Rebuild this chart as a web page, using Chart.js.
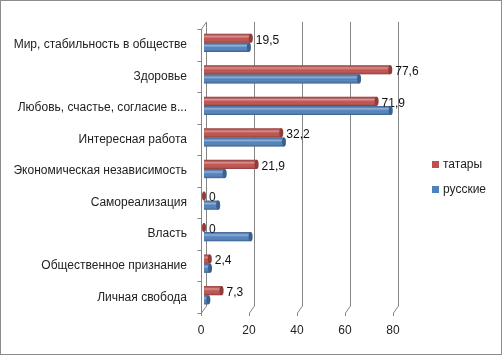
<!DOCTYPE html>
<html><head><meta charset="utf-8">
<script src="https://cdn.jsdelivr.net/npm/chart.js@4"></script>
<style>
html,body{margin:0;padding:0;background:#fff;}
#wrap{position:relative;width:502px;height:355px;}
canvas{display:block}
#frame{position:absolute;left:0;top:0;width:500px;height:353px;border:1px solid #8c8c8c;pointer-events:none}
</style></head><body>
<div id="wrap"><canvas id="c" width="502" height="355"></canvas><div id="frame"></div></div>
<script>
const categories = [
  'Мир, стабильность в обществе',
  'Здоровье',
  'Любовь, счастье, согласие в...',
  'Интересная работа',
  'Экономическая независимость',
  'Самореализация',
  'Власть',
  'Общественное признание',
  'Личная свобода'
];
const tatarValues = [19.5, 77.6, 71.9, 32.2, 21.9, 0, 0, 2.4, 7.3];
const russianValues = [18.7, 64.6, 77.8, 33.3, 8.6, 5.9, 19.4, 2.5, 1.8];
const seriesNames = ['татары', 'русские'];
const seriesColors = ['#C0504D', '#4F81BD'];
const xTicks = [0, 20, 40, 60, 80];

const FONT = 'Liberation Sans, Arial, sans-serif';
const FSIZE = 12;
const DEPTH = {dx: 3, dy: -2};
const WALL = {dx: 5, dy: -7};

function fmt(v){ return String(v).replace('.', ','); }

const wallPlugin = {
  id: 'wall',
  beforeDatasetsDraw(chart){
    const {ctx, chartArea: a, scales} = chart;
    const xs = scales.x;
    ctx.save();
    ctx.strokeStyle = '#858585';
    ctx.lineWidth = 1;
    xTicks.forEach(v => {
      const gx = Math.round(xs.getPixelForValue(v)) + 0.5;
      ctx.beginPath();
      ctx.moveTo(gx + WALL.dx, a.top + WALL.dy);
      ctx.lineTo(gx + WALL.dx, a.bottom + WALL.dy);
      ctx.lineTo(gx, a.bottom);
      ctx.lineTo(gx, a.bottom + 3);
      ctx.stroke();
    });
    const lx = Math.round(a.left) + 0.5;
    ctx.beginPath();
    ctx.moveTo(lx + WALL.dx, a.top + WALL.dy);
    ctx.lineTo(lx, a.top);
    ctx.lineTo(lx, a.bottom);
    ctx.stroke();
    const n = categories.length;
    for (let i = 0; i <= n; i++){
      const y = Math.round(a.top + (a.bottom - a.top) * i / n) + 0.5;
      ctx.beginPath();
      ctx.moveTo(lx - 4, y);
      ctx.lineTo(lx, y);
      ctx.stroke();
    }
    ctx.restore();
    ctx.save();
    ctx.translate(DEPTH.dx, DEPTH.dy);
  },
  afterDatasetsDraw(chart){
    const {ctx} = chart;
    chart.data.datasets.forEach((ds, di) => {
      const meta = chart.getDatasetMeta(di);
      meta.data.forEach((el, i) => {
        const p = el.getProps(['x', 'y', 'base', 'height'], true);
        const top = p.y - p.height / 2, h = p.height;
        const l = Math.min(p.base, p.x), r = Math.max(p.base, p.x);
        const g = ctx.createLinearGradient(0, top, 0, top + h);
        g.addColorStop(0, 'rgba(0,0,0,0.18)');
        g.addColorStop(0.3, 'rgba(255,255,255,0.38)');
        g.addColorStop(0.55, 'rgba(255,255,255,0.0)');
        g.addColorStop(1, 'rgba(0,0,0,0.28)');
        ctx.fillStyle = g;
        ctx.fillRect(l, top, r - l, h);
        ctx.beginPath();
        ctx.ellipse(r, p.y, 2, h / 2, 0, 0, Math.PI * 2);
        ctx.fillStyle = ds.backgroundColor;
        ctx.fill();
        ctx.fillStyle = 'rgba(0,0,0,0.25)';
        ctx.fill();
        if (di === 0){
          ctx.fillStyle = '#111';
          ctx.font = FSIZE + 'px ' + FONT;
          ctx.textBaseline = 'middle';
          ctx.textAlign = 'left';
          ctx.fillText(fmt(ds.data[i]), r + 5, p.y + 2);
        }
      });
    });
    ctx.restore();
  }
};

const legendPlugin = {
  id: 'sideLegend',
  afterDraw(chart){
    const {ctx} = chart;
    const o = chart.options.plugins.sideLegend;
    ctx.save();
    ctx.font = FSIZE + 'px ' + FONT;
    ctx.textBaseline = 'middle';
    ctx.textAlign = 'left';
    chart.data.datasets.forEach((ds, i) => {
      const y = o.y + i * o.gap;
      ctx.fillStyle = ds.backgroundColor;
      ctx.fillRect(o.x, y - 3, 7, 7);
      ctx.fillStyle = '#222';
      ctx.fillText(ds.label, o.x + 11, y + 1);
    });
    ctx.restore();
  }
};

new Chart(document.getElementById('c'), {
  type: 'bar',
  data: {
    labels: categories,
    datasets: [
      {label: seriesNames[0], data: tatarValues, backgroundColor: seriesColors[0]},
      {label: seriesNames[1], data: russianValues, backgroundColor: seriesColors[1]}
    ]
  },
  options: {
    indexAxis: 'y',
    responsive: false,
    animation: false,
    devicePixelRatio: 1,
    categoryPercentage: 0.58,
    barPercentage: 1,
    layout: {padding: {left: 6, top: 29, right: 109, bottom: 17}},
    scales: {
      x: {
        min: 0, max: 80,
        afterBuildTicks(s){ s.ticks = xTicks.map(v => ({value: v})); },
        afterFit(s){ s.height = 25; },
        grid: {display: false, drawTicks: false},
        border: {display: false},
        ticks: {padding: 10, color: '#222', font: {family: FONT, size: FSIZE}}
      },
      y: {
        afterFit(s){ s.width = 195; },
        grid: {display: false, drawTicks: false},
        border: {display: false},
        ticks: {padding: 14, color: '#222', font: {family: FONT, size: FSIZE}}
      }
    },
    plugins: {
      legend: {display: false},
      tooltip: {enabled: false},
      sideLegend: {x: 432, y: 164, gap: 25}
    }
  },
  plugins: [wallPlugin, legendPlugin]
});
</script>
</body></html>
